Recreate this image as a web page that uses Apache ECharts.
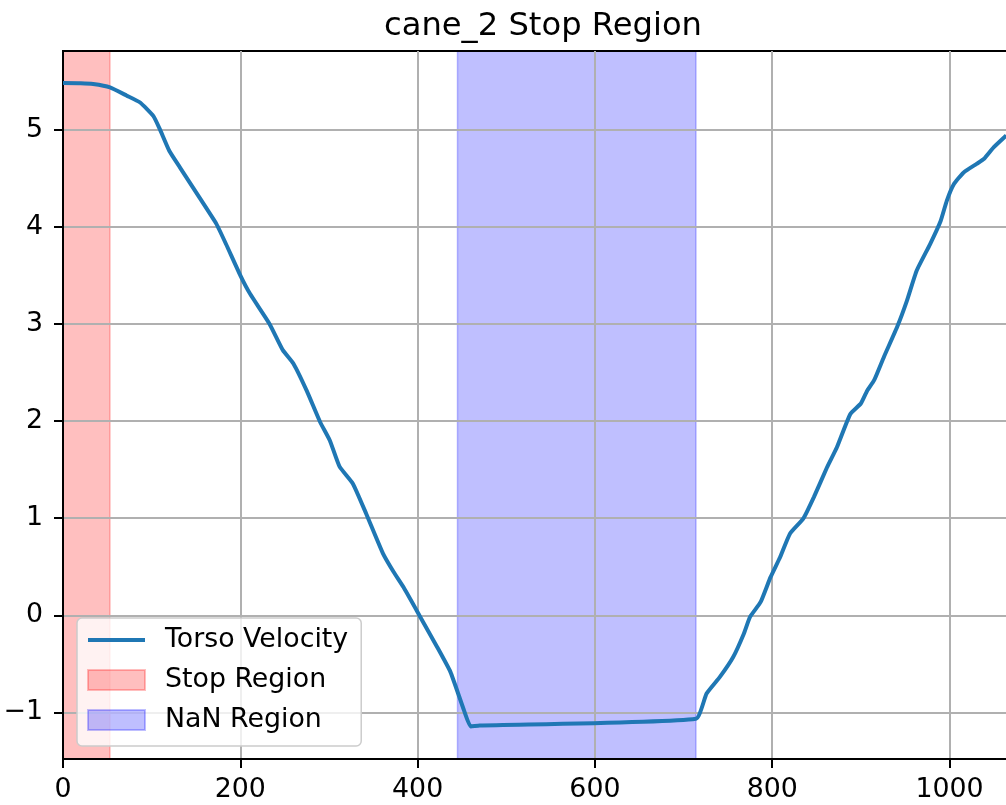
<!DOCTYPE html>
<html>
<head>
<meta charset="utf-8">
<script src="https://cdn.jsdelivr.net/npm/echarts@6/dist/echarts.min.js"></script>
<style>
html,body{margin:0;padding:0;background:#fff;}
#chart{width:1006px;height:805px;}
</style>
</head>
<body>
<div id="chart"></div>
<script>
const titleText = 'cane_2 Stop Region';
const seriesNames = ['Torso Velocity', 'Stop Region', 'NaN Region'];
const frameX = [0, 20, 34, 53, 72, 87, 102, 109, 120, 132, 154, 173, 184, 200, 211, 233, 248, 260, 275, 290, 301, 312, 327, 342, 361, 373, 384, 403, 422, 437, 452, 460, 470, 714, 726, 741, 756, 768, 775, 787, 798, 809, 820, 835, 847, 862, 873, 888, 900, 907, 915, 926, 941, 952, 963, 978, 990, 997, 1005, 1016, 1031, 1039, 1050, 1064];
const velocity = [5.48, 5.478, 5.47, 5.435, 5.35, 5.28, 5.14, 5.01, 4.78, 4.61, 4.30, 4.03, 3.82, 3.50, 3.31, 3.00, 2.73, 2.59, 2.31, 1.99, 1.80, 1.53, 1.355, 1.046, 0.635, 0.445, 0.29, -0.017, -0.326, -0.583, -0.97, -1.145, -1.135, -1.065, -0.806, -0.635, -0.43, -0.19, -0.017, 0.137, 0.39, 0.60, 0.84, 0.995, 1.217, 1.526, 1.73, 2.07, 2.18, 2.31, 2.42, 2.66, 2.97, 3.24, 3.55, 3.82, 4.06, 4.27, 4.44, 4.56, 4.65, 4.70, 4.82, 4.94];
const stopRegion = [0, 53];
const nanRegion = [445, 714];
const xTicks = [0, 200, 400, 600, 800, 1000];
const yTicks = [-1, 0, 1, 2, 3, 4, 5];
const xRange = [0, 1075];
const yRange = [-1.48, 5.81];

const font = 'DejaVu Sans';
const tickFont = 26.8;
const lineData = frameX.map((x, i) => [x, velocity[i]]);
const minusFmt = v => String(v).replace('-', '\u2212');

const chart = echarts.init(document.getElementById('chart'), null, {renderer: 'canvas'});
chart.setOption({
  animation: false,
  backgroundColor: '#fff',
  title: {
    text: titleText,
    left: 379,
    top: 6,
    textStyle: {fontFamily: font, fontSize: 32.2, fontWeight: 'normal', color: '#000'}
  },
  grid: {
    left: 63, top: 51, width: 953, bottom: 46,
    outerBoundsMode: 'none',
    containLabel: false,
    z: 3,
    show: true, borderColor: '#000', borderWidth: 2, backgroundColor: 'transparent'
  },
  legend: {
    orient: 'vertical',
    left: 77, top: 618,
    z: 10,
    padding: [7, 13, 11, 9],
    itemWidth: 57, itemHeight: 20, itemGap: 10,
    backgroundColor: 'rgba(255,255,255,0.8)',
    borderColor: '#cccccc', borderWidth: 1.5, borderRadius: 5,
    textStyle: {fontFamily: font, fontSize: tickFont, color: '#000', lineHeight: 30, padding: [0, 0, 0, 15]},
    data: [
      {name: seriesNames[0], lineStyle: {width: 4, color: '#1f77b4'}},
      {name: seriesNames[1], icon: 'rect'},
      {name: seriesNames[2], icon: 'rect'}
    ]
  },
  xAxis: {
    type: 'value',
    z: 3,
    min: xRange[0], max: xRange[1], interval: 200,
    axisLine: {show: true, onZero: false, lineStyle: {color: '#000', width: 2}},
    axisTick: {show: true, inside: false, length: 9, lineStyle: {color: '#000', width: 2}, customValues: xTicks},
    axisLabel: {fontFamily: font, fontSize: tickFont, color: '#000', margin: 18, customValues: xTicks, formatter: minusFmt},
    splitLine: {show: true, lineStyle: {color: '#b0b0b0', width: 2}}
  },
  yAxis: {
    type: 'value',
    z: 3,
    min: yRange[0], max: yRange[1], splitNumber: 7,
    axisLine: {show: true, onZero: false, lineStyle: {color: '#000', width: 2}},
    axisTick: {show: true, inside: false, length: 9, lineStyle: {color: '#000', width: 2}, customValues: yTicks},
    axisLabel: {fontFamily: font, fontSize: tickFont, color: '#000', margin: 20, customValues: yTicks, formatter: minusFmt},
    splitLine: {show: true, lineStyle: {color: '#b0b0b0', width: 2}}
  },
  series: [
    {
      name: seriesNames[0],
      type: 'line',
      data: lineData,
      symbol: 'line',
      showSymbol: false,
      smooth: 0.15,
      color: '#1f77b4',
      itemStyle: {color: '#1f77b4', borderColor: '#1f77b4', borderWidth: 0},
      lineStyle: {color: '#1f77b4', width: 4},
      z: 6
    },
    {
      name: seriesNames[1],
      type: 'line',
      data: [],
      symbol: 'none',
      color: 'rgba(255,0,0,0.25)',
      itemStyle: {color: 'rgba(255,0,0,0.25)', borderColor: 'rgba(255,0,0,0.25)', borderWidth: 1.5},
      z: 1,
      markArea: {
        silent: true,
        z: 1,
        itemStyle: {color: 'rgba(255,0,0,0.25)', borderColor: 'rgba(255,0,0,0.25)', borderWidth: 1.5},
        data: [[{xAxis: stopRegion[0]}, {xAxis: stopRegion[1]}]]
      }
    },
    {
      name: seriesNames[2],
      type: 'line',
      data: [],
      symbol: 'none',
      color: 'rgba(0,0,255,0.25)',
      itemStyle: {color: 'rgba(0,0,255,0.25)', borderColor: 'rgba(0,0,255,0.25)', borderWidth: 1.5},
      z: 1,
      markArea: {
        silent: true,
        z: 1,
        itemStyle: {color: 'rgba(0,0,255,0.25)', borderColor: 'rgba(0,0,255,0.25)', borderWidth: 1.5},
        data: [[{xAxis: nanRegion[0]}, {xAxis: nanRegion[1]}]]
      }
    }
  ]
});
</script>
</body>
</html>
